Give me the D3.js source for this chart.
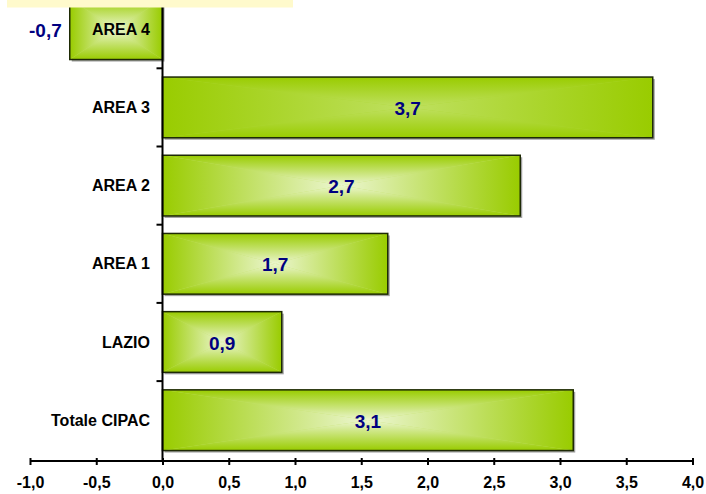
<!DOCTYPE html>
<html>
<head>
<meta charset="utf-8">
<script src="https://cdn.jsdelivr.net/npm/d3@7"></script>
<style>
  html, body { margin: 0; padding: 0; background: #fff; }
  svg { display: block; }
  text { font-family: "Liberation Sans", Arial, sans-serif; font-weight: bold; }
</style>
</head>
<body>
<svg id="chart" width="706" height="494"></svg>
<script>
// Variation by area (percent), top to bottom
const categories = ["AREA 4", "AREA 3", "AREA 2", "AREA 1", "LAZIO", "Totale CIPAC"];
const values = [-0.7, 3.7, 2.7, 1.7, 0.9, 3.1];
const xTicks = [-1, -0.5, 0, 0.5, 1, 1.5, 2, 2.5, 3, 3.5, 4];

const svg = d3.select("#chart");
const defs = svg.append("defs");

const it = d3.formatLocale({ decimal: ",", thousands: ".", grouping: [3], currency: ["", "€"], minus: "-" });
const fmt = it.format(".1f");

const x = d3.scaleLinear().domain([-1, 4]).range([30, 692.5]);
const y = d3.scaleBand().domain(categories).range([-9.9, 459.3])
  .paddingInner(0.224).paddingOuter(0.112);
const step = y.step();
const axisY = 461;

const edge = "#99cc00";
function centerColor(cat) { return cat === "AREA 3" ? "#bfe060" : "#ecf6d0"; }

// Bars: shadow, base fill, rectangle gradient from the centre, outline
const bars = svg.append("g");
categories.forEach((c, i) => {
  const v = values[i];
  const x0 = Math.min(x(0), x(v)), x1 = Math.max(x(0), x(v));
  const y0 = y(c), y1 = y(c) + y.bandwidth();
  const cx = (x0 + x1) / 2, cy = (y0 + y1) / 2;
  const cc = centerColor(c);

  const gv = defs.append("linearGradient").attr("id", "gv" + i)
    .attr("gradientUnits", "userSpaceOnUse")
    .attr("x1", cx).attr("y1", y0).attr("x2", cx).attr("y2", y1);
  gv.append("stop").attr("offset", 0).attr("stop-color", edge);
  gv.append("stop").attr("offset", 0.5).attr("stop-color", cc);
  gv.append("stop").attr("offset", 1).attr("stop-color", edge);

  const gh = defs.append("linearGradient").attr("id", "gh" + i)
    .attr("gradientUnits", "userSpaceOnUse")
    .attr("x1", x0).attr("y1", cy).attr("x2", x1).attr("y2", cy);
  gh.append("stop").attr("offset", 0).attr("stop-color", edge);
  gh.append("stop").attr("offset", 0.5).attr("stop-color", cc);
  gh.append("stop").attr("offset", 1).attr("stop-color", edge);

  const g = bars.append("g");
  g.append("rect").attr("x", x0 + 2).attr("y", y0 + 2)
    .attr("width", x1 - x0).attr("height", y1 - y0).attr("fill", "#a0a0a0");
  g.append("rect").attr("x", x0).attr("y", y0)
    .attr("width", x1 - x0).attr("height", y1 - y0).attr("fill", d3.interpolateRgb(edge, cc)(0.5));
  // top and bottom triangles
  g.append("path").attr("fill", `url(#gv${i})`)
    .attr("d", `M${x0},${y0}L${x1},${y0}L${cx},${cy}Z M${x0},${y1}L${x1},${y1}L${cx},${cy}Z`);
  // left and right triangles
  g.append("path").attr("fill", `url(#gh${i})`)
    .attr("d", `M${x0},${y0}L${x0},${y1}L${cx},${cy}Z M${x1},${y0}L${x1},${y1}L${cx},${cy}Z`);
  g.append("rect").attr("x", x0).attr("y", y0)
    .attr("width", x1 - x0).attr("height", y1 - y0)
    .attr("fill", "none").attr("stroke", "#1e2a05").attr("stroke-width", 1.5);
});

// X axis
const xAxis = svg.append("g").attr("transform", `translate(0,${axisY})`)
  .call(d3.axisBottom(x).tickValues(xTicks).tickFormat(fmt).tickSize(4).tickPadding(12));
xAxis.select(".domain").attr("d", `M${x(-1)},0H${x(4)}`).attr("stroke", "#000").attr("stroke-width", 2);
xAxis.selectAll(".tick line").attr("y1", -3).attr("stroke", "#000").attr("stroke-width", 2);
xAxis.selectAll(".tick text").attr("font-size", 16).attr("fill", "#000")
  .style("font-family", "'Liberation Sans', Arial, sans-serif").style("font-weight", "bold");

// Y axis at zero
const yLine = svg.append("g");
yLine.append("line").attr("x1", x(0)).attr("x2", x(0)).attr("y1", 0).attr("y2", axisY + 1)
  .attr("stroke", "#000").attr("stroke-width", 2);
categories.forEach((c, i) => {
  if (i === 0) return;
  const ty = y(c) - y.paddingInner() * step / 2;
  yLine.append("line").attr("x1", x(0) - 6).attr("x2", x(0)).attr("y1", ty).attr("y2", ty)
    .attr("stroke", "#000").attr("stroke-width", 2);
});

// Category labels
svg.append("g").selectAll("text").data(categories).join("text")
  .attr("x", 150).attr("y", d => y(d) + y.bandwidth() / 2)
  .attr("text-anchor", "end").attr("dominant-baseline", "central")
  .attr("font-size", 16).attr("fill", "#000")
  .text(d => d);

// Value labels
svg.append("g").selectAll("text").data(categories).join("text")
  .attr("x", (d, i) => values[i] < 0 ? x(values[i]) - 8 : (x(0) + x(values[i])) / 2)
  .attr("y", d => y(d) + y.bandwidth() / 2 + 1)
  .attr("text-anchor", (d, i) => values[i] < 0 ? "end" : "middle")
  .attr("dominant-baseline", "central")
  .attr("font-size", 19).attr("fill", "#000080")
  .text((d, i) => fmt(values[i]));

// Title strip
svg.append("rect").attr("x", 7).attr("y", 0).attr("width", 286).attr("height", 7.5)
  .attr("fill", "#fffacc");
</script>
</body>
</html>
